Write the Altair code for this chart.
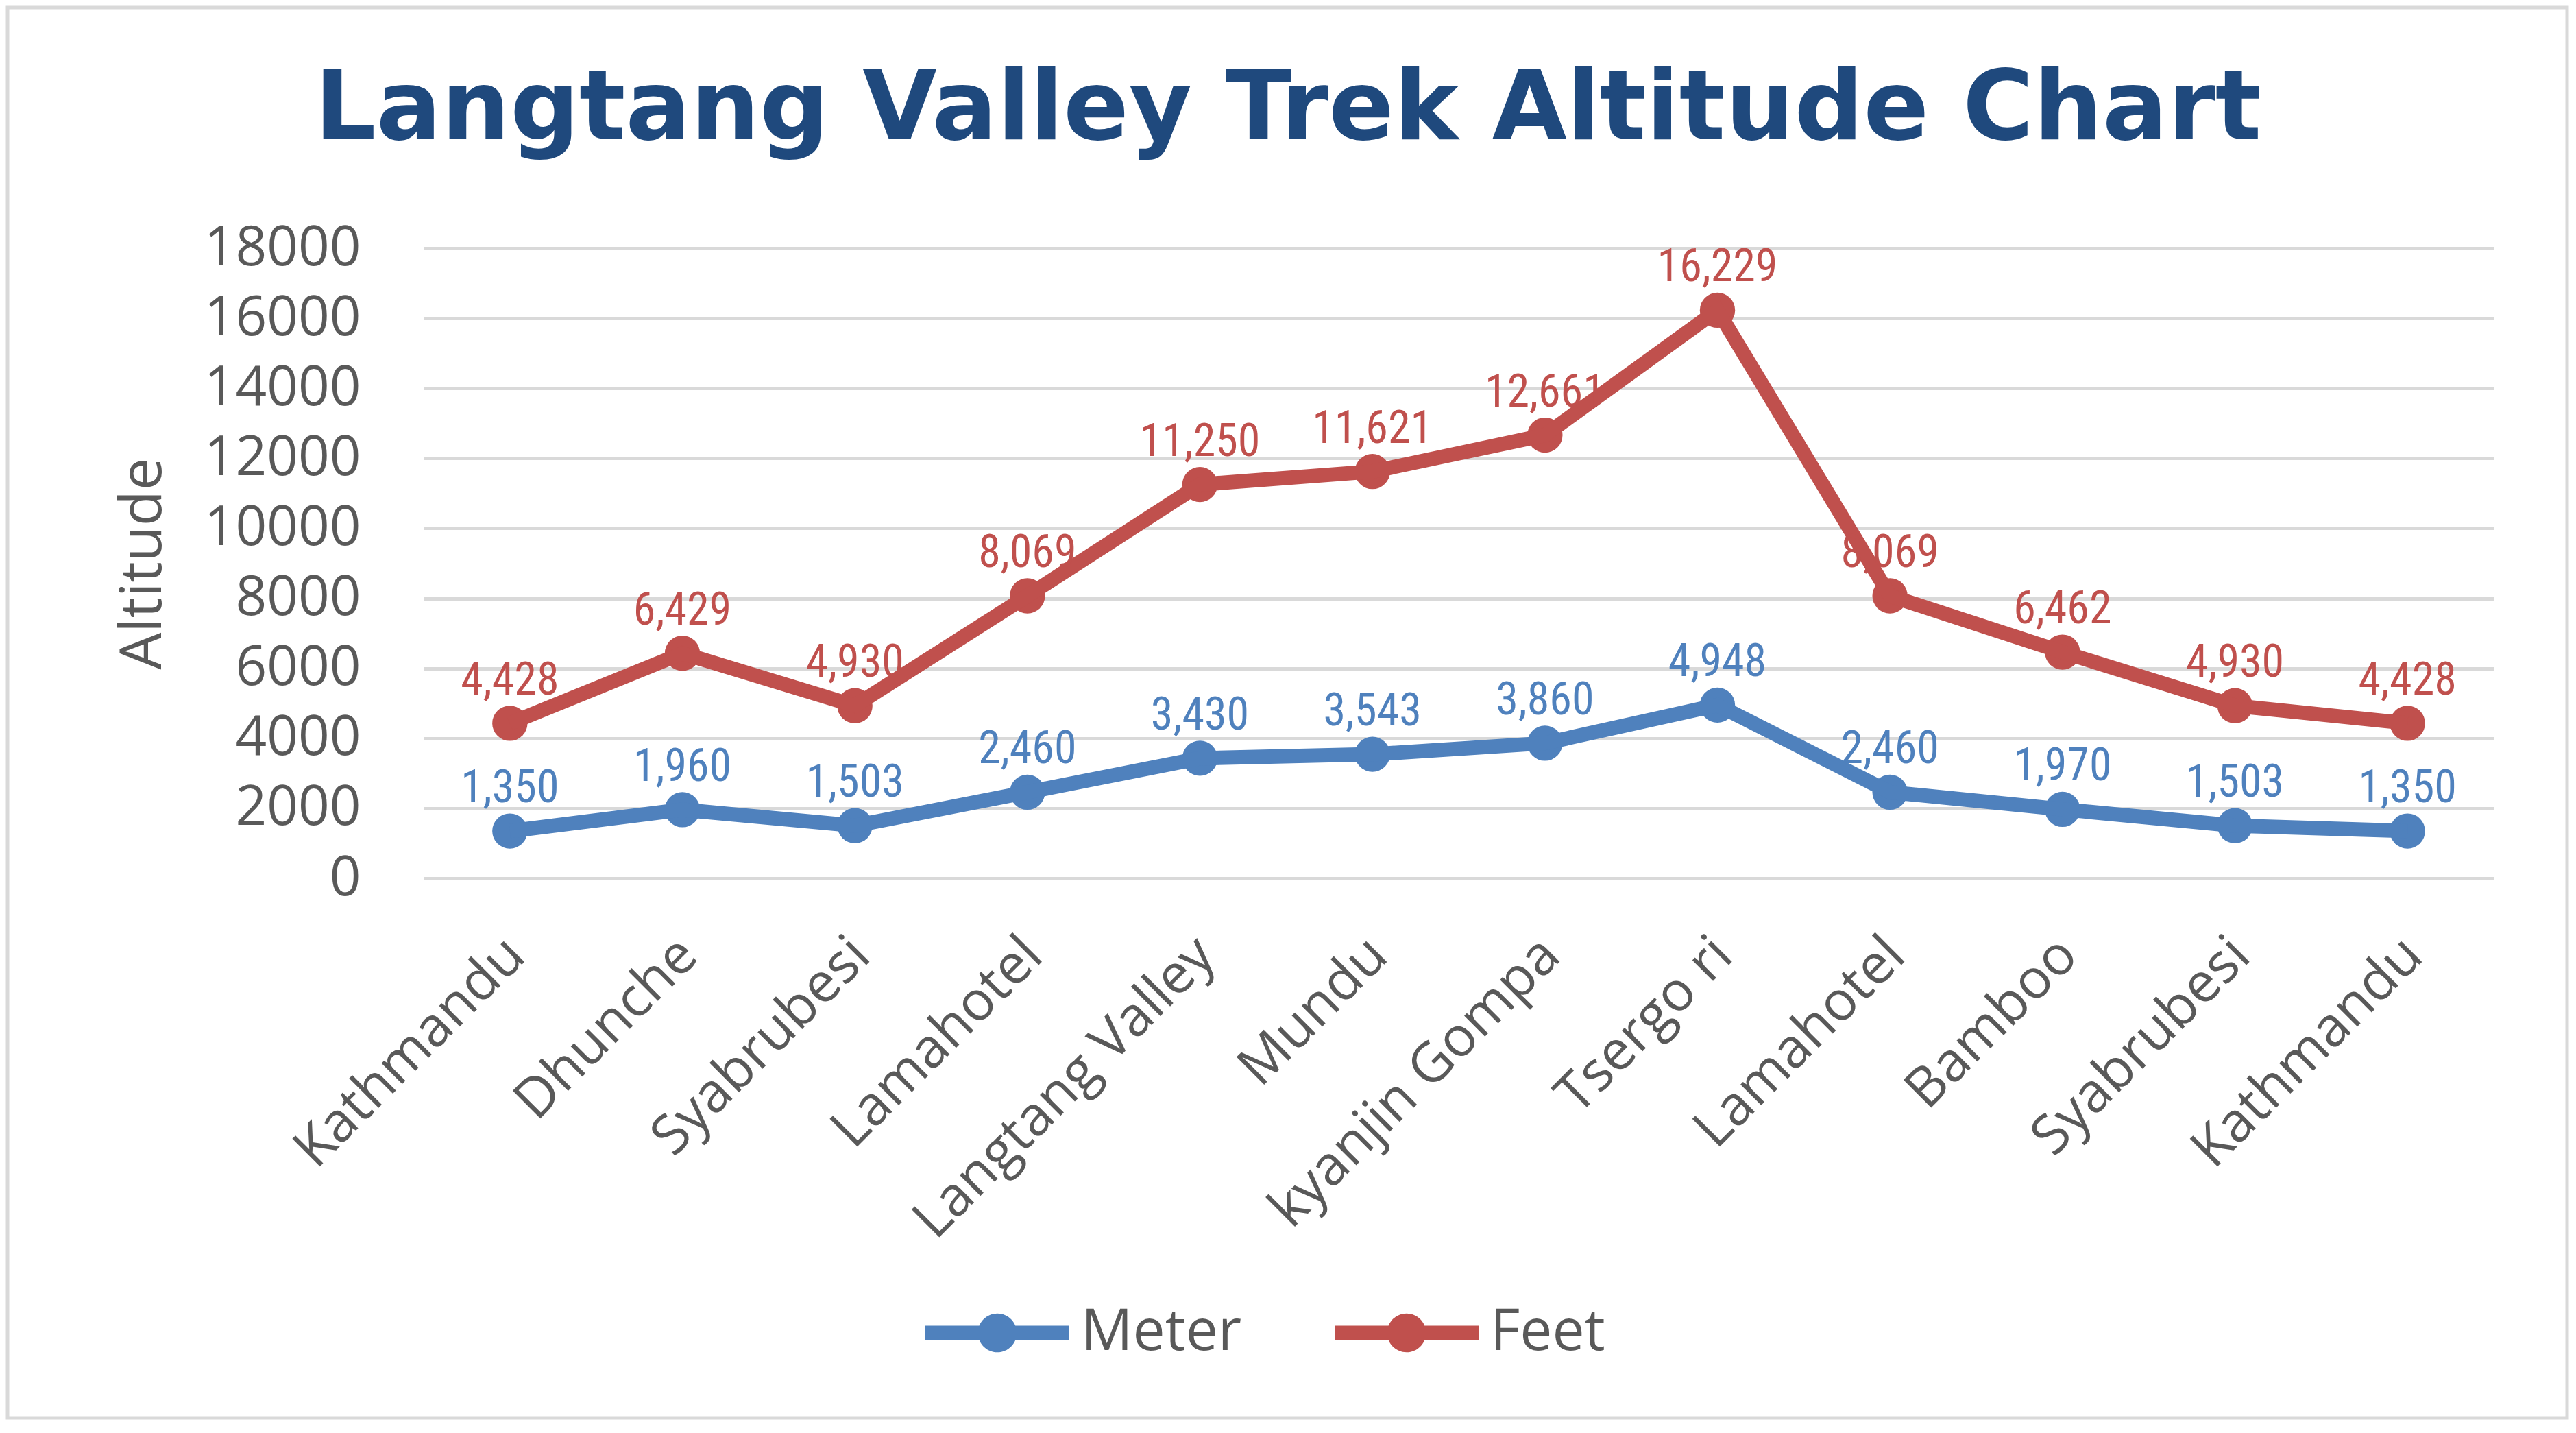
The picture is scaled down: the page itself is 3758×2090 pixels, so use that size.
import json
import altair as alt
import pandas as pd

# ---- data ----
stops = ["Kathmandu", "Dhunche", "Syabrubesi", "Lamahotel", "Langtang Valley", "Mundu",
         "kyanjin Gompa", "Tsergo ri", "Lamahotel", "Bamboo", "Syabrubesi", "Kathmandu"]
meter = [1350, 1960, 1503, 2460, 3430, 3543, 3860, 4948, 2460, 1970, 1503, 1350]
feet = [4428, 6429, 4930, 8069, 11250, 11621, 12661, 16229, 8069, 6462, 4930, 4428]
series = ["Meter", "Feet"]
colors = ["#4F81BD", "#C0504D"]
y_ticks = list(range(0, 18001, 2000))

rows = []
for name, vals in zip(series, [meter, feet]):
    for i, v in enumerate(vals):
        rows.append({"idx": i, "stop": stops[i], "series": name, "alt": v})
df = pd.DataFrame(rows)

GRAY = "#595959"
label_expr = json.dumps(stops) + "[datum.value]"
NARROW = "'Liberation Sans Narrow', 'Roboto Condensed', 'DejaVu Sans Condensed', 'Liberation Sans', sans-serif"

W, H = 3020, 919
PAD = {"left": 610, "top": 354, "right": 110, "bottom": 790}

x_enc = alt.X("idx:O", scale=alt.Scale(type="point", padding=0.5),
              axis=alt.Axis(title=None, labelExpr=label_expr, labelAngle=315,
                            labelAlign="right", labelBaseline="top", labelPadding=72,
                            labelOffset=-19,
                            labelFont="Open Sans", labelFontSize=80, labelColor=GRAY,
                            labelLimit=2000, ticks=False, domain=False, grid=False,
                            labelOverlap=False))
y_enc = alt.Y("alt:Q", scale=alt.Scale(domain=[0, 18000], nice=False),
              axis=alt.Axis(title="Altitude", values=y_ticks, format="d",
                            labelFont="Open Sans", labelFontSize=80, labelColor=GRAY,
                            labelLimit=2000, labelPadding=92, ticks=False, domain=False,
                            grid=True, gridColor="#D9D9D9", gridWidth=5,
                            titleFont="Open Sans", titleFontSize=85, titleFontWeight="normal",
                            titleColor=GRAY, titleX=-384, titleBaseline="alphabetic"))

legend_path = ("M-1,-0.1 L1,-0.1 L1,0.1 L-1,0.1 Z "
               "M-0.27,0 A0.27,0.27 0 1,1 0.27,0 A0.27,0.27 0 1,1 -0.27,0 Z")
color_enc = alt.Color("series:N", scale=alt.Scale(domain=series, range=colors),
                      legend=alt.Legend(title=None, orient="none", direction="horizontal",
                                        legendX=732, legendY=1477,
                                        labelFont="Open Sans", labelFontSize=84,
                                        labelColor=GRAY, labelLimit=2000,
                                        symbolType=legend_path,
                                        symbolSize=44100, symbolStrokeWidth=0,
                                        labelOffset=17, columnPadding=135, padding=0))

base = alt.Chart(df).encode(x=x_enc, y=y_enc, color=color_enc, detail="series:N")

points = base.mark_point(filled=True, shape="circle", size=2640, opacity=1)
lines = base.mark_line(strokeWidth=21)
labels = base.mark_text(font=NARROW, fontSize=66, baseline="alphabetic",
                        dy=-42).encode(text=alt.Text("alt:Q", format=","))

# light gray frame around the whole chart area (decoration)
frame = alt.Chart(pd.DataFrame({"f": [0]})).mark_rect(
    fill=None, stroke="#D9D9D9", strokeWidth=5
).encode(x=alt.value(-PAD["left"] + 3), x2=alt.value(W + PAD["right"] - 3),
         y=alt.value(-PAD["top"] + 3), y2=alt.value(H + PAD["bottom"] - 3))

chart = alt.layer(frame, points, lines, labels).properties(
    width=W, height=H,
    autosize=alt.AutoSizeParams(type="none"),
    padding=PAD,
    title=alt.Title("Langtang Valley Trek Altitude Chart", font="DejaVu Sans", fontSize=141,
                    fontWeight="bold", color="#1F497D", anchor="middle", dx=-249,
                    baseline="alphabetic", offset=-335),
).configure_view(stroke=None).configure(background="white")

chart.save("out.html", embed_options={"renderer": "svg", "actions": False})
